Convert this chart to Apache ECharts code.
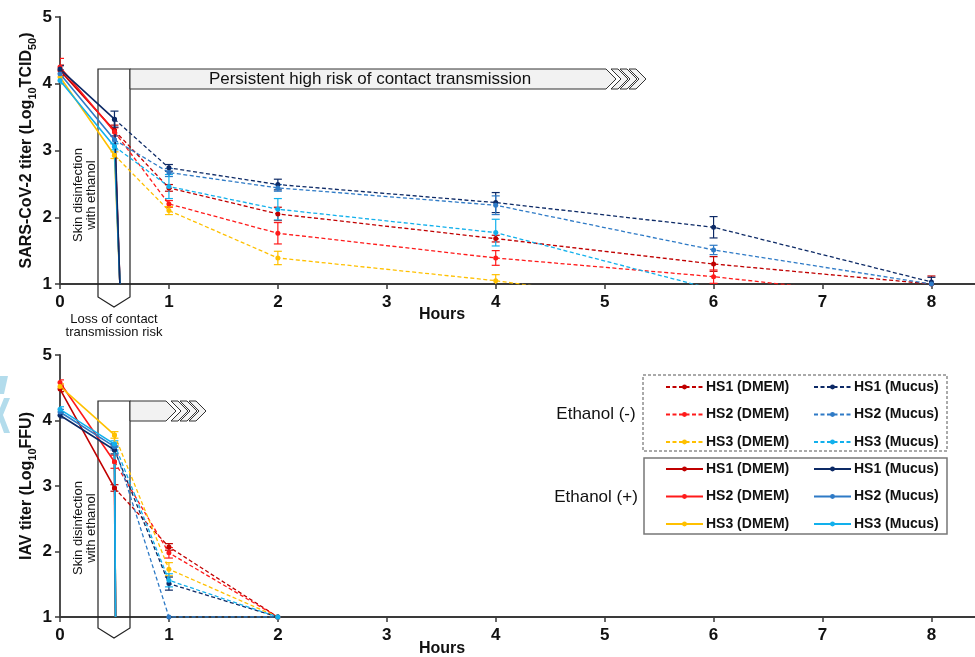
<!DOCTYPE html>
<html>
<head>
<meta charset="utf-8"/>
<title>SARS-CoV-2 / IAV titer on skin</title>
<script src="https://cdn.jsdelivr.net/npm/echarts@6/dist/echarts.min.js"></script>
<style>
    html, body { margin: 0; padding: 0; background: #fff; }
    #main { width: 975px; height: 657px; }
</style>
</head>
<body>
<div id="main"></div>
<script>
    // ---- data ----
    // ticks
    var hourTicks = [0, 1, 2, 3, 4, 5, 6, 7, 8];

    // SARS-CoV-2, ethanol (-) : dashed, from 0.5 h on
    var covHoursNeg = [0.5, 1, 2, 4, 6, 8];
    var covDmem1Neg = [3.30, 2.44, 2.05, 1.68, 1.30, 1.00];
    var covDmem1NegErr = [0.08, 0.05, 0.10, 0.05, 0.11, 0.12];
    var covDmem2Neg = [3.28, 2.20, 1.76, 1.39, 1.11, 0.75];
    var covDmem2NegErr = [0.06, 0.05, 0.16, 0.11, 0.10, 0];
    var covDmem3Neg = [2.93, 2.10, 1.39, 1.05, 0.60, null];
    var covDmem3NegErr = [0.05, 0.06, 0.10, 0.09, 0, 0];
    var covMucus1Neg = [3.47, 2.74, 2.49, 2.22, 1.85, 1.03];
    var covMucus1NegErr = [0.12, 0.05, 0.08, 0.15, 0.16, 0.07];
    var covMucus2Neg = [3.16, 2.67, 2.44, 2.18, 1.51, 1.00];
    var covMucus2NegErr = [0.06, 0.06, 0.05, 0.14, 0.07, 0];
    var covMucus3Neg = [3.06, 2.46, 2.12, 1.77, 0.92, null];
    var covMucus3NegErr = [0.05, 0.18, 0.16, 0.20, 0, 0];

    // SARS-CoV-2, ethanol (+) : solid, drops right after disinfection
    var covHoursPos = [0, 0.5, 0.55];
    var covDmem1Pos = [4.20, 3.30, 1];
    var covDmem1PosErr = [0.08, 0, 0];
    var covDmem2Pos = [4.25, 3.28, 1];
    var covDmem2PosErr = [0.13, 0, 0];
    var covDmem3Pos = [4.10, 2.93, 1];
    var covDmem3PosErr = [0.10, 0, 0];
    var covMucus1Pos = [4.22, 3.47, 1];
    var covMucus1PosErr = [0.05, 0, 0];
    var covMucus2Pos = [4.15, 3.16, 1];
    var covMucus2PosErr = [0.06, 0, 0];
    var covMucus3Pos = [4.05, 3.06, 1];
    var covMucus3PosErr = [0.05, 0, 0];

    // IAV, ethanol (-)
    var iavHoursNeg = [0.5, 1, 2];
    var iavDmem1Neg = [2.97, 2.07, 1.00];
    var iavDmem1NegErr = [0.05, 0.05, 0];
    var iavDmem2Neg = [3.37, 1.98, 1.00];
    var iavDmem2NegErr = [0.10, 0.08, 0];
    var iavDmem3Neg = [3.78, 1.73, 1.00];
    var iavDmem3NegErr = [0.05, 0.10, 0];
    var iavMucus1Neg = [3.55, 1.51, 1.00];
    var iavMucus1NegErr = [0.06, 0.10, 0];
    var iavMucus2Neg = [3.60, 1.00, 1.00];
    var iavMucus2NegErr = [0.05, 0, 0];
    var iavMucus3Neg = [3.64, 1.56, 1.00];
    var iavMucus3NegErr = [0.05, 0.10, 0];

    // IAV, ethanol (+)
    var iavHoursPos = [0, 0.5, 0.51];
    var iavDmem1Pos = [4.48, 2.97, 1];
    var iavDmem2Pos = [4.58, 3.37, 1];
    var iavDmem3Pos = [4.52, 3.78, 1];
    var iavMucus1Pos = [4.08, 3.55, 1];
    var iavMucus2Pos = [4.13, 3.60, 1];
    var iavMucus3Pos = [4.17, 3.64, 1];
    var iavPosErr = [0.04, 0, 0];

    var C_DMEM1 = '#c00000', C_DMEM2 = '#ff1a1a', C_DMEM3 = '#ffc000';
    var C_MUC1 = '#0d2a66', C_MUC2 = '#2e7ac6', C_MUC3 = '#12b0ec';
    var FONT = 'Liberation Sans';

    // ---- helpers ----
    function lineSeries(name, color, hours, vals, dashed, axis) {
        var data = [];
        hours.forEach(function (h, i) {
            if (vals[i] == null) return;
            if (!dashed && i === hours.length - 1) {
                data.push({value: [h, vals[i]], symbol: 'none'});
            } else {
                data.push([h, vals[i]]);
            }
        });
        return {
            name: name, type: 'line', xAxisIndex: axis, yAxisIndex: axis,
            data: data, symbol: 'circle', symbolSize: 5,
            lineStyle: {color: color, width: dashed ? 1.3 : 1.6, type: dashed ? [4, 2.5] : 'solid'},
            itemStyle: {color: color},
            emphasis: {disabled: true},
            z: dashed ? 3 : 4,
            animation: false
        };
    }

    function renderErr(params, api) {
        var x = api.value(0);
        var lo = api.coord([x, api.value(1)]);
        var hi = api.coord([x, api.value(2)]);
        var w = 4;
        var st = {stroke: api.visual('color'), lineWidth: 1.2};
        return {
            type: 'group', children: [
                {type: 'line', shape: {x1: lo[0], y1: lo[1], x2: hi[0], y2: hi[1]}, style: st},
                {type: 'line', shape: {x1: lo[0] - w, y1: lo[1], x2: lo[0] + w, y2: lo[1]}, style: st},
                {type: 'line', shape: {x1: hi[0] - w, y1: hi[1], x2: hi[0] + w, y2: hi[1]}, style: st}
            ]
        };
    }

    function errSeries(color, hours, vals, errs, axis) {
        var data = [];
        hours.forEach(function (h, i) {
            if (vals[i] == null || !errs[i] || vals[i] < 1) return;
            data.push([h, vals[i] - errs[i], vals[i] + errs[i]]);
        });
        return {
            type: 'custom', xAxisIndex: axis, yAxisIndex: axis, data: data,
            renderItem: renderErr, itemStyle: {color: color}, clip: true,
            encode: {x: 0, y: [1, 2]}, silent: true, z: 2, animation: false
        };
    }

    var series = [
        // top: SARS-CoV-2
        lineSeries('HS1 (DMEM) -', C_DMEM1, covHoursNeg, covDmem1Neg, true, 0),
        lineSeries('HS2 (DMEM) -', C_DMEM2, covHoursNeg, covDmem2Neg, true, 0),
        lineSeries('HS3 (DMEM) -', C_DMEM3, covHoursNeg, covDmem3Neg, true, 0),
        lineSeries('HS1 (Mucus) -', C_MUC1, covHoursNeg, covMucus1Neg, true, 0),
        lineSeries('HS2 (Mucus) -', C_MUC2, covHoursNeg, covMucus2Neg, true, 0),
        lineSeries('HS3 (Mucus) -', C_MUC3, covHoursNeg, covMucus3Neg, true, 0),
        lineSeries('HS1 (DMEM) +', C_DMEM1, covHoursPos, covDmem1Pos, false, 0),
        lineSeries('HS2 (DMEM) +', C_DMEM2, covHoursPos, covDmem2Pos, false, 0),
        lineSeries('HS3 (DMEM) +', C_DMEM3, covHoursPos, covDmem3Pos, false, 0),
        lineSeries('HS2 (Mucus) +', C_MUC2, covHoursPos, covMucus2Pos, false, 0),
        lineSeries('HS3 (Mucus) +', C_MUC3, covHoursPos, covMucus3Pos, false, 0),
        lineSeries('HS1 (Mucus) +', C_MUC1, covHoursPos, covMucus1Pos, false, 0),
        errSeries(C_DMEM1, covHoursNeg, covDmem1Neg, covDmem1NegErr, 0),
        errSeries(C_DMEM2, covHoursNeg, covDmem2Neg, covDmem2NegErr, 0),
        errSeries(C_DMEM3, covHoursNeg, covDmem3Neg, covDmem3NegErr, 0),
        errSeries(C_MUC1, covHoursNeg, covMucus1Neg, covMucus1NegErr, 0),
        errSeries(C_MUC2, covHoursNeg, covMucus2Neg, covMucus2NegErr, 0),
        errSeries(C_MUC3, covHoursNeg, covMucus3Neg, covMucus3NegErr, 0),
        errSeries(C_DMEM1, covHoursPos, covDmem1Pos, covDmem1PosErr, 0),
        errSeries(C_DMEM2, covHoursPos, covDmem2Pos, covDmem2PosErr, 0),
        errSeries(C_DMEM3, covHoursPos, covDmem3Pos, covDmem3PosErr, 0),
        errSeries(C_MUC1, covHoursPos, covMucus1Pos, covMucus1PosErr, 0),
        errSeries(C_MUC2, covHoursPos, covMucus2Pos, covMucus2PosErr, 0),
        errSeries(C_MUC3, covHoursPos, covMucus3Pos, covMucus3PosErr, 0),

        // bottom: IAV
        lineSeries('HS1 (DMEM) -', C_DMEM1, iavHoursNeg, iavDmem1Neg, true, 1),
        lineSeries('HS2 (DMEM) -', C_DMEM2, iavHoursNeg, iavDmem2Neg, true, 1),
        lineSeries('HS3 (DMEM) -', C_DMEM3, iavHoursNeg, iavDmem3Neg, true, 1),
        lineSeries('HS1 (Mucus) -', C_MUC1, iavHoursNeg, iavMucus1Neg, true, 1),
        lineSeries('HS2 (Mucus) -', C_MUC2, iavHoursNeg, iavMucus2Neg, true, 1),
        lineSeries('HS3 (Mucus) -', C_MUC3, iavHoursNeg, iavMucus3Neg, true, 1),
        lineSeries('HS1 (DMEM) +', C_DMEM1, iavHoursPos, iavDmem1Pos, false, 1),
        lineSeries('HS2 (DMEM) +', C_DMEM2, iavHoursPos, iavDmem2Pos, false, 1),
        lineSeries('HS3 (DMEM) +', C_DMEM3, iavHoursPos, iavDmem3Pos, false, 1),
        lineSeries('HS1 (Mucus) +', C_MUC1, iavHoursPos, iavMucus1Pos, false, 1),
        lineSeries('HS2 (Mucus) +', C_MUC2, iavHoursPos, iavMucus2Pos, false, 1),
        lineSeries('HS3 (Mucus) +', C_MUC3, iavHoursPos, iavMucus3Pos, false, 1),
        errSeries(C_DMEM1, iavHoursNeg, iavDmem1Neg, iavDmem1NegErr, 1),
        errSeries(C_DMEM2, iavHoursNeg, iavDmem2Neg, iavDmem2NegErr, 1),
        errSeries(C_DMEM3, iavHoursNeg, iavDmem3Neg, iavDmem3NegErr, 1),
        errSeries(C_MUC1, iavHoursNeg, iavMucus1Neg, iavMucus1NegErr, 1),
        errSeries(C_MUC2, iavHoursNeg, iavMucus2Neg, iavMucus2NegErr, 1),
        errSeries(C_MUC3, iavHoursNeg, iavMucus3Neg, iavMucus3NegErr, 1),
        errSeries(C_DMEM1, iavHoursPos, iavDmem1Pos, iavPosErr, 1),
        errSeries(C_DMEM2, iavHoursPos, iavDmem2Pos, iavPosErr, 1),
        errSeries(C_DMEM3, iavHoursPos, iavDmem3Pos, iavPosErr, 1),
        errSeries(C_MUC1, iavHoursPos, iavMucus1Pos, iavPosErr, 1),
        errSeries(C_MUC2, iavHoursPos, iavMucus2Pos, iavPosErr, 1),
        errSeries(C_MUC3, iavHoursPos, iavMucus3Pos, iavPosErr, 1)
    ];

    function xAxis(grid) {
        return {
            type: 'value', gridIndex: grid, min: 0, max: 8.4, interval: 1,
            axisLine: {lineStyle: {color: '#3a3a3a', width: 1.8}},
            axisTick: {length: 5, customValues: hourTicks, lineStyle: {color: '#3a3a3a', width: 1.5}},
            axisLabel: {customValues: hourTicks, margin: 10, color: '#111', fontSize: 17, fontWeight: 'bold', fontFamily: FONT},
            splitLine: {show: false}
        };
    }

    var richName = {
        b: {fontSize: 16, fontWeight: 'bold', fontFamily: FONT, color: '#111', lineHeight: 22},
        s: {fontSize: 11, fontWeight: 'bold', fontFamily: FONT, color: '#111', lineHeight: 12, verticalAlign: 'bottom'}
    };

    function yAxis(grid, name) {
        return {
            type: 'value', gridIndex: grid, min: 1, max: 5, interval: 1,
            name: name, nameLocation: 'middle', nameGap: 22, nameRotate: 90,
            nameMoveOverlap: false,
            nameTextStyle: {rich: richName},
            axisLine: {show: true, lineStyle: {color: '#3a3a3a', width: 1.8}},
            axisTick: {show: true, length: 5, lineStyle: {color: '#3a3a3a', width: 1.5}},
            axisLabel: {margin: 8, color: '#111', fontSize: 17, fontWeight: 'bold', fontFamily: FONT},
            splitLine: {show: false}
        };
    }

    function legend(names, left, top) {
        return {
            data: names, orient: 'vertical', left: left, top: top, padding: 0,
            itemWidth: 37, itemHeight: 6, itemGap: 11.5, selectedMode: false,
            formatter: function (n) { return n.replace(/ [-+]$/, ''); },
            textStyle: {fontFamily: FONT, fontSize: 14, fontWeight: 'bold', color: '#111', lineHeight: 16, padding: [0, 0, 0, -2]}
        };
    }

    // ---- decorations ----
    function pentagon(top, bottom) {
        return {type: 'polygon', z: 1, silent: true,
            shape: {points: [[98, top], [130, top], [130, bottom], [114, bottom + 10], [98, bottom]]},
            style: {fill: 'none', stroke: '#222', lineWidth: 1.2}};
    }
    function banner(top, right) {
        var els = [{type: 'polygon', z: 1, silent: true,
            shape: {points: [[130, top], [right, top], [right + 10, top + 10], [right, top + 20], [130, top + 20]]},
            style: {fill: '#f2f2f2', stroke: '#333', lineWidth: 1}}];
        [5, 14, 23].forEach(function (dx) {
            var x = right + dx;
            els.push({type: 'polygon', z: 1, silent: true,
                shape: {points: [[x, top], [x + 7, top], [x + 17, top + 10], [x + 7, top + 20], [x, top + 20], [x + 10, top + 10]]},
                style: {fill: '#f2f2f2', stroke: '#333', lineWidth: 1}});
        });
        return els;
    }
    function txt(x, y, s, size, bold) {
        return {type: 'text', x: x, y: y, z: 10, silent: true,
            style: {text: s, fontFamily: FONT, fontSize: size, fontWeight: bold ? 'bold' : 'normal',
                fill: '#111', align: 'center', verticalAlign: 'middle', lineHeight: 13}};
    }
    function vtxt(x, y, s) {
        var t = txt(x, y, s, 13, false);
        t.rotation = Math.PI / 2;
        return t;
    }

    var graphics = [
        pentagon(69, 297), pentagon(401, 628)
    ].concat(banner(69, 606), banner(401, 166), [
        txt(370, 79, 'Persistent high risk of contact transmission', 17, false),
        vtxt(85, 195, 'Skin disinfection\nwith ethanol'),
        vtxt(85, 528, 'Skin disinfection\nwith ethanol'),
        txt(114, 326, 'Loss of contact\ntransmission risk', 13, false),
        txt(442, 315, 'Hours', 16, true),
        txt(442, 649, 'Hours', 16, true),
        // legend frames
        {type: 'rect', z: 1, silent: true, shape: {x: 643, y: 375, width: 304, height: 76},
            style: {fill: 'none', stroke: '#555', lineWidth: 1, lineDash: [3, 2]}},
        {type: 'rect', z: 1, silent: true, shape: {x: 644, y: 458, width: 303, height: 76},
            style: {fill: 'none', stroke: '#777', lineWidth: 1.5}},
        txt(596, 414, 'Ethanol (-)', 17, false),
        txt(596, 497, 'Ethanol (+)', 17, false),
        // faint blue shapes at the left edge
        {type: 'polygon', z: 0, silent: true, shape: {points: [[0, 376], [8, 376], [4, 394], [0, 394]]}, style: {fill: '#b3dcec'}},
        {type: 'polygon', z: 0, silent: true, shape: {points: [[10, 398], [3, 415], [10, 433], [4, 433], [0, 422], [0, 408], [4, 398]]}, style: {fill: '#b3dcec'}}
    ]);

    var option = {
        animation: false,
        textStyle: {fontFamily: FONT},
        grid: [
            {left: 60, right: 0, top: 17, height: 267},
            {left: 60, right: 0, top: 355, height: 262}
        ],
        xAxis: [xAxis(0), xAxis(1)],
        yAxis: [
            yAxis(0, '{b|SARS-CoV-2 titer (Log}{s|10}{b|TCID}{s|50}{b|)}'),
            yAxis(1, '{b|IAV titer (Log}{s|10}{b|FFU)}')
        ],
        legend: [
            legend(['HS1 (DMEM) -', 'HS2 (DMEM) -', 'HS3 (DMEM) -'], 665, 379),
            legend(['HS1 (Mucus) -', 'HS2 (Mucus) -', 'HS3 (Mucus) -'], 813, 379),
            legend(['HS1 (DMEM) +', 'HS2 (DMEM) +', 'HS3 (DMEM) +'], 665, 461),
            legend(['HS1 (Mucus) +', 'HS2 (Mucus) +', 'HS3 (Mucus) +'], 813, 461)
        ],
        graphic: graphics,
        series: series
    };

    var myChart = echarts.init(document.getElementById('main'));
    myChart.setOption(option);
    window.onresize = function () { myChart.resize(); };
</script>
</body>
</html>
